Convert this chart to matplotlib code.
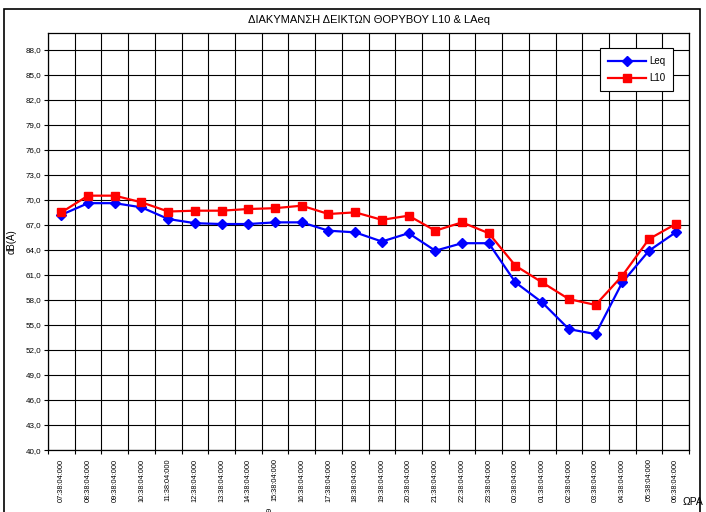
import numpy as np
import matplotlib
matplotlib.use("Agg")
import matplotlib.pyplot as plt
from matplotlib.patches import Rectangle

# ------------------------
# Data
# ------------------------
hours = ["07", "08", "09", "10", "11", "12", "13", "14", "15", "16", "17", "18",
         "19", "20", "21", "22", "23", "00", "01", "02", "03", "04", "05", "06"]
time_labels = [h + ":38:04:000" for h in hours]

leq = [68.2, 69.6, 69.6, 69.1, 67.7, 67.2, 67.1, 67.1, 67.3, 67.3, 66.3, 66.1,
       65.0, 66.0, 63.9, 64.8, 64.8, 60.1, 57.7, 54.5, 53.9, 60.1, 63.9, 66.1]
l10 = [68.5, 70.5, 70.5, 69.7, 68.6, 68.7, 68.7, 68.9, 69.0, 69.3, 68.3, 68.5,
       67.6, 68.1, 66.3, 67.3, 66.0, 62.1, 60.1, 58.1, 57.4, 60.9, 65.3, 67.1]

y_ticks = np.arange(40, 89, 3)

plt.rcParams['font.family'] = ['Liberation Sans', 'DejaVu Sans']

fig = plt.figure(figsize=(7.06, 5.12), dpi=100)
ax = fig.add_axes([0.068, 0.121, 0.908, 0.8145])

x = np.arange(len(hours))
ax.plot(x, leq, color='#0000FF', lw=1.6, marker='D', markersize=5.5, label='Leq', zorder=3)
ax.plot(x, l10, color='#FF0000', lw=1.6, marker='s', markersize=6, label='L10', zorder=3)

# ------------------------
# Axes, ticks and grid
# ------------------------
ax.set_xlim(-0.5, len(hours) - 0.5)
ax.set_ylim(40, 90)
ax.set_yticks(y_ticks)
ax.set_yticklabels([f"{v:.1f}".replace('.', ',') for v in y_ticks], fontsize=5.8)

ax.set_xticks(np.arange(-0.5, len(hours), 1.0))
ax.set_xticklabels([])
ax.set_xticks(x, minor=True)
ax.set_xticklabels(time_labels, minor=True, rotation=90, fontsize=5.3)
ax.tick_params(axis='x', which='minor', length=0, pad=6)
ax.tick_params(axis='x', which='major', length=3, width=0.8)
ax.tick_params(axis='y', length=3, width=0.8, pad=2)

ax.grid(True, which='major', color='black', lw=0.8)
ax.set_axisbelow(True)
for s in ax.spines.values():
    s.set_linewidth(0.9)

ax.set_ylabel("dB(A)", fontsize=7, labelpad=6)
ax.set_title("ΔΙΑΚΥΜΑΝΣΗ ΔΕΙΚΤΩΝ ΘΟΡΥΒΟΥ L10 & LAeq", fontsize=8, pad=7)

fig.text(0.967, 0.01, "ΩΡΑ", fontsize=7.5, ha='left', va='bottom')
fig.text(0.383, 0.0, "9", fontsize=5.5, rotation=90, ha='center', va='bottom')

leg = ax.legend(loc='upper right', bbox_to_anchor=(0.983, 0.975), fontsize=7,
                frameon=True, fancybox=False, edgecolor='black', framealpha=1,
                handlelength=4.0, handletextpad=0.3, borderpad=0.8, labelspacing=0.75)
leg.get_frame().set_linewidth(0.8)

# outer chart border
fig.patches.append(Rectangle((4 / 706, -0.01), 696 / 706, 1 - 9 / 512 + 0.01,
                             transform=fig.transFigure, fill=False,
                             edgecolor='black', lw=1.2))

fig.savefig("out.png", dpi=100)
